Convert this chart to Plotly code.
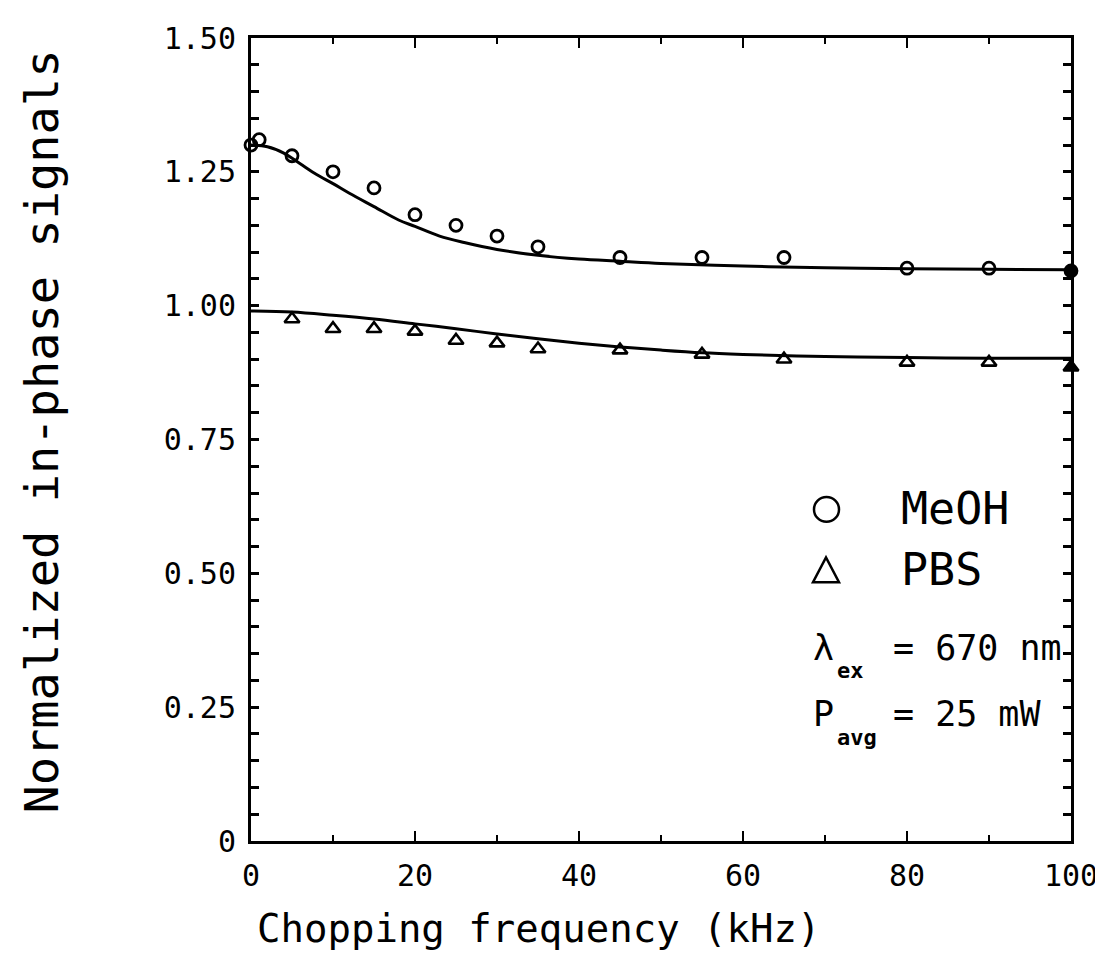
import plotly.graph_objects as go

# ---- data ----
meoh_x = [0, 1, 5, 10, 15, 20, 25, 30, 35, 45, 55, 65, 80, 90, 100]
meoh_y = [1.30, 1.31, 1.28, 1.25, 1.22, 1.17, 1.15, 1.13, 1.11, 1.09, 1.09, 1.09, 1.07, 1.07, 1.065]

pbs_x = [5, 10, 15, 20, 25, 30, 35, 45, 55, 65, 80, 90, 100]
pbs_y = [0.975, 0.957, 0.957, 0.952, 0.935, 0.930, 0.919, 0.917, 0.909, 0.900, 0.894, 0.894, 0.885]

meoh_fit_x = [0, 2, 4, 6, 8, 10, 12, 15, 18, 20, 23, 26, 30, 35, 40, 45, 50, 60, 70, 80, 90, 100]
meoh_fit_y = [1.300, 1.297, 1.285, 1.265, 1.245, 1.228, 1.210, 1.185, 1.160, 1.148, 1.130, 1.118,
              1.105, 1.094, 1.087, 1.083, 1.079, 1.074, 1.071, 1.069, 1.068, 1.067]

pbs_fit_x = [0, 5, 10, 15, 20, 25, 30, 35, 40, 45, 50, 55, 60, 70, 80, 90, 100]
pbs_fit_y = [0.990, 0.988, 0.982, 0.975, 0.966, 0.957, 0.947, 0.938, 0.930, 0.923, 0.917,
             0.912, 0.909, 0.905, 0.903, 0.902, 0.902]

x_tickvals = [0, 20, 40, 60, 80, 100]
x_ticktext = ["0", "20", "40", "60", "80", "100"]
y_tickvals = [0, 0.25, 0.5, 0.75, 1.0, 1.25, 1.5]
y_ticktext = ["0", "0.25", "0.50", "0.75", "1.00", "1.25", "1.50"]

FONT = "DejaVu Sans Mono"

# plot-area geometry in pixels (for placing annotations)
W, H = 1103, 965
L, R, T, B = 243, 40, 23, 132
PW, PH = W - L - R, H - T - B


def px(x):
    return (x - L) / PW


def py(y):
    return (H - B - y) / PH


fig = go.Figure()

fig.add_trace(go.Scatter(x=meoh_fit_x, y=meoh_fit_y, mode="lines",
                         line=dict(color="black", width=3, shape="spline"),
                         showlegend=False, cliponaxis=False))
fig.add_trace(go.Scatter(x=pbs_fit_x, y=pbs_fit_y, mode="lines",
                         line=dict(color="black", width=3, shape="spline"),
                         showlegend=False, cliponaxis=False))

meoh_sym = ["circle-open"] * (len(meoh_x) - 1) + ["circle"]
pbs_sym = ["triangle-up-open"] * (len(pbs_x) - 1) + ["triangle-up"]

fig.add_trace(go.Scatter(x=meoh_x, y=meoh_y, mode="markers",
                         marker=dict(symbol=meoh_sym, size=12, color="black",
                                     line=dict(color="black", width=2.8)),
                         showlegend=False, cliponaxis=False))
fig.add_trace(go.Scatter(x=pbs_x, y=pbs_y, mode="markers",
                         marker=dict(symbol=pbs_sym, size=13, color="black",
                                     line=dict(color="black", width=2.6)),
                         showlegend=False, cliponaxis=False))

fig.update_xaxes(range=[0, 100], showgrid=False, zeroline=False,
                 showline=True, linecolor="black", linewidth=3, mirror="ticks",
                 ticks="inside", ticklen=10, tickwidth=2, tickcolor="black",
                 tickvals=x_tickvals, ticktext=x_ticktext,
                 tickfont=dict(family=FONT, size=30, color="black"),
                 minor=dict(dtick=10, tick0=0, ticks="inside", ticklen=6, tickwidth=2,
                            tickcolor="black", showgrid=False),
                 ticklabelstandoff=6)
fig.update_yaxes(range=[0, 1.5], showgrid=False, zeroline=False,
                 showline=True, linecolor="black", linewidth=3, mirror="ticks",
                 ticks="inside", ticklen=8, tickwidth=2.5, tickcolor="black",
                 tickvals=y_tickvals, ticktext=y_ticktext,
                 tickfont=dict(family=FONT, size=30, color="black"),
                 minor=dict(dtick=0.05, tick0=0, ticks="inside", ticklen=8, tickwidth=2.5,
                            tickcolor="black", showgrid=False),
                 ticklabelstandoff=6)

# axis titles
fig.add_annotation(text="Chopping frequency (kHz)", x=px(531), xref="paper",
                   y=py(921), yref="paper", showarrow=False,
                   xanchor="center", yanchor="middle",
                   font=dict(family=FONT, size=39, color="black"))
fig.add_annotation(text="Normalized in-phase signals", x=px(34), xref="paper",
                   y=py(420), yref="paper", showarrow=False, textangle=-90,
                   xanchor="center", yanchor="middle",
                   font=dict(family=FONT, size=47, color="black"))

# in-plot legend symbols (drawn as shapes)
fig.add_shape(type="circle", xref="paper", yref="paper",
              x0=px(806), x1=px(831), y0=py(511), y1=py(486),
              line=dict(color="black", width=2.5))
fig.add_shape(type="path", xref="paper", yref="paper",
              path=f"M {px(805)} {py(572)} L {px(831)} {py(572)} L {px(818)} {py(547)} Z",
              line=dict(color="black", width=2.5))

fig.add_annotation(text="MeOH", x=px(891), xref="paper", y=py(498), yref="paper",
                   xanchor="left", yanchor="middle", showarrow=False,
                   font=dict(family=FONT, size=45, color="black"))
fig.add_annotation(text="PBS", x=px(891), xref="paper", y=py(559), yref="paper",
                   xanchor="left", yanchor="middle", showarrow=False,
                   font=dict(family=FONT, size=45, color="black"))

# lambda_ex line
fig.add_annotation(text="λ", x=px(803), xref="paper", y=py(638), yref="paper",
                   xanchor="left", yanchor="middle", showarrow=False,
                   font=dict(family=FONT, size=35, color="black"))
fig.add_annotation(text="<b>ex</b>", x=px(827), xref="paper", y=py(661), yref="paper",
                   xanchor="left", yanchor="middle", showarrow=False,
                   font=dict(family=FONT, size=22, color="black"))
fig.add_annotation(text="= 670 nm", x=px(883), xref="paper", y=py(638), yref="paper",
                   xanchor="left", yanchor="middle", showarrow=False,
                   font=dict(family=FONT, size=35, color="black"))
# P_avg line
fig.add_annotation(text="P", x=px(803), xref="paper", y=py(705), yref="paper",
                   xanchor="left", yanchor="middle", showarrow=False,
                   font=dict(family=FONT, size=35, color="black"))
fig.add_annotation(text="<b>avg</b>", x=px(827), xref="paper", y=py(729), yref="paper",
                   xanchor="left", yanchor="middle", showarrow=False,
                   font=dict(family=FONT, size=22, color="black"))
fig.add_annotation(text="= 25 mW", x=px(883), xref="paper", y=py(705), yref="paper",
                   xanchor="left", yanchor="middle", showarrow=False,
                   font=dict(family=FONT, size=35, color="black"))

fig.update_layout(width=W, height=H,
                  margin=dict(l=L, r=R, t=T, b=B),
                  paper_bgcolor="white", plot_bgcolor="white",
                  showlegend=False)

fig.write_html("out.html")
